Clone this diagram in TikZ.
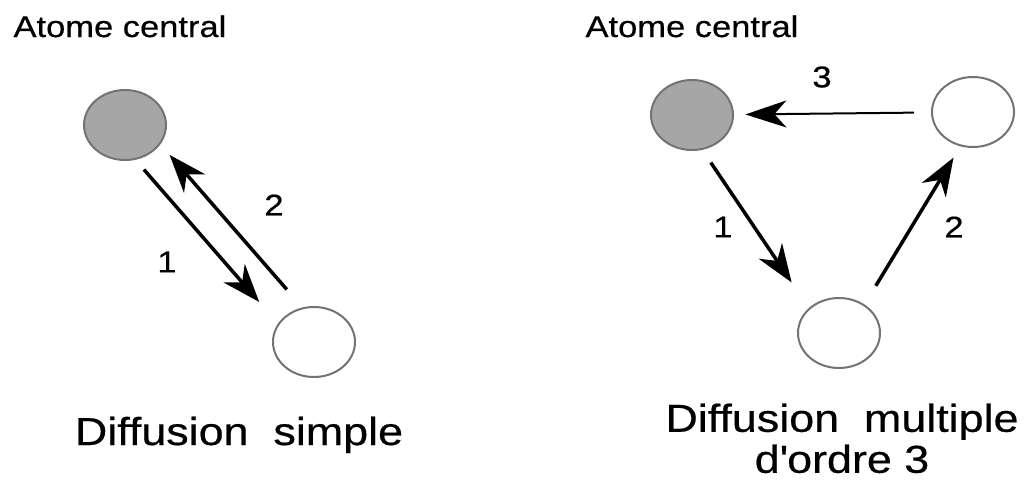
\documentclass[tikz,border=0pt]{standalone}
\usepackage{fontspec}
\setmainfont{Liberation Sans}[FakeStretch=1.15,FakeBold=0.5]
\usetikzlibrary{arrows.meta,shapes.geometric,calc}

\begin{document}
\begin{tikzpicture}[x=1pt,y=-1pt,
  atom/.style={ellipse,draw=black!55,line width=2pt,
    minimum width=82pt,minimum height=70pt,inner sep=0pt},
  central/.style={atom,fill=black!35},
  hop/.style={line width=3.5pt,-{Stealth[length=38pt,width=28pt,inset=12pt]}},
  thinhop/.style={line width=2pt,-{Stealth[length=41pt,width=27pt,inset=12pt]}},
  num/.style={font=\fontsize{30}{36}\selectfont},
  label/.style={font=\fontsize{30}{36}\selectfont,anchor=base west},
  caption/.style={font=\fontsize{39}{41}\selectfont,align=center}]
\useasboundingbox (0,0) rectangle (1030,488);

% single scattering
\node[label] (lab1) at (10,37) {Atome central};
\node[central] (g1) at (125,125) {};
\node[atom] (w1) at (314,342) {};
\draw[hop] ($(g1)!0.16!(w1)!15pt!-90:(w1)$) -- ($(g1)!0.77!(w1)!15pt!-90:(w1)$);
\draw[hop] ($(w1)!0.20!(g1)!14pt!-90:(g1)$) -- ($(w1)!0.82!(g1)!14pt!-90:(g1)$);
\node[num] (n1) at (167,262) {1};
\node[num] (n2) at (274,205) {2};
\node[caption,anchor=base] (cap1) at (239,445) {Diffusion~~simple};

% multiple scattering, order 3
\node[label] (lab2) at (582,37) {Atome central};
\node[central] (g2) at (692,115) {};
\node[atom] (w2) at (839,333) {};
\node[atom] (w3) at (973,112) {};
\draw[hop] ($(g2)!0.19!(w2)!11pt!-90:(w2)$) -- ($(g2)!0.74!(w2)!11pt!-90:(w2)$);
\draw[hop] ($(w2)!0.23!(w3)!7pt!-90:(w3)$) -- ($(w2)!0.81!(w3)!7pt!-90:(w3)$);
\draw[thinhop] ($(w3)!0.21!(g2)$) -- ($(w3)!0.81!(g2)$);
\node[num] (m1) at (723,227) {1};
\node[num] (m2) at (954,227) {2};
\node[num] (m3) at (822,77) {3};
\node[caption,anchor=north] (cap2) at (842,400) {Diffusion~~multiple\\d\textquotesingle ordre 3};
\end{tikzpicture}
\end{document}
